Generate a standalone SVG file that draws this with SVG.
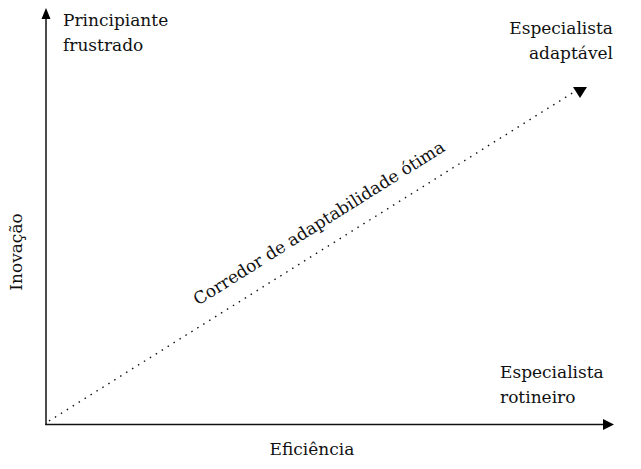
<svg xmlns="http://www.w3.org/2000/svg" width="641" height="469" viewBox="0 0 641 469">
<style>
.t{font-family:'DejaVu Serif','Liberation Serif',serif;font-size:17px;fill:#111}
.ax{stroke:#111;stroke-width:1.5;fill:none}
.head{fill:#000}
.dot{stroke:#111;stroke-width:1.4;stroke-dasharray:1.5 5.5;fill:none}
</style>
<rect width="641" height="469" fill="#fff"/>
<g id="connectors">
<line class="ax" x1="46" y1="425" x2="46" y2="18"/>
<polygon class="head" points="41.5,19 50.5,19 46,8"/>
<line class="ax" x1="45.3" y1="424.5" x2="604" y2="424.5"/>
<polygon class="head" points="603,419 603,430 614,424.5"/>
<line class="dot" x1="49" y1="421" x2="574" y2="92"/>
<polygon class="head" points="573,87 587,87 580,98"/>
</g>
<g id="label-principiante" class="t">
<text x="63" y="26">Principiante</text>
<text x="63" y="51">frustrado</text>
</g>
<g id="label-adaptavel" class="t">
<text x="613" y="34" text-anchor="end">Especialista</text>
<text x="613" y="59" text-anchor="end">adaptável</text>
</g>
<g id="label-rotineiro" class="t">
<text x="500" y="378">Especialista</text>
<text x="500" y="403">rotineiro</text>
</g>
<g id="label-eficiencia" class="t">
<text x="312" y="455" text-anchor="middle">Eficiência</text>
</g>
<g id="label-inovacao" class="t">
<text transform="translate(22,252) rotate(-90)" text-anchor="middle">Inovação</text>
</g>
<g id="label-corredor" class="t">
<text transform="translate(322,228) rotate(-32.1)" text-anchor="middle">Corredor de adaptabilidade ótima</text>
</g>
</svg>
